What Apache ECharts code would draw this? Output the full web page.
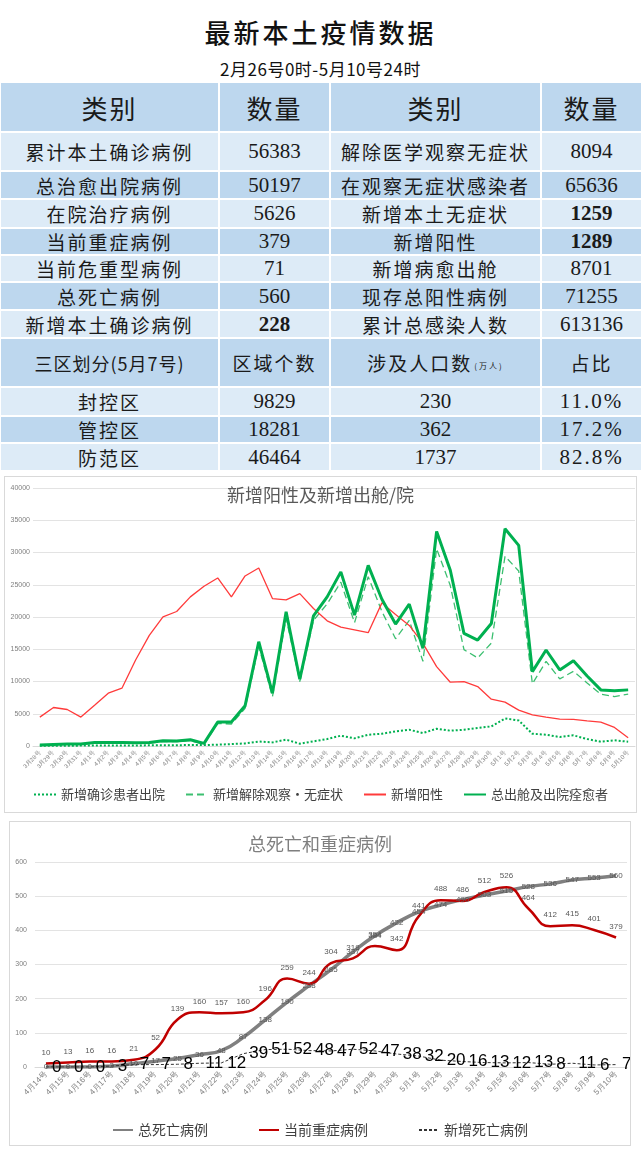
<!DOCTYPE html>
<html><head><meta charset="utf-8">
<script src="https://cdn.jsdelivr.net/npm/echarts@6/dist/echarts.min.js"></script>
<style>
body{margin:0;width:641px;height:1156px;background:#fff;position:relative;overflow:hidden;font-family:"Noto Sans CJK SC",sans-serif;}
.c{position:absolute;box-sizing:border-box;display:flex;align-items:center;justify-content:center;color:#1a1a1a;white-space:nowrap;}
.num{font-family:"Liberation Serif",serif;font-size:21px;}
.lab{font-size:19px;letter-spacing:2px;}
.box{position:absolute;border:1px solid #d9d9d9;background:#fff;}
</style></head><body>
<div class="c" style="left:0;top:12px;width:641px;height:38px;font-size:26px;letter-spacing:3px;font-weight:500;color:#111">最新本土疫情数据</div>
<div class="c" style="left:0;top:56px;width:641px;height:24px;font-size:17px;letter-spacing:0.5px;color:#111">2月26号0时-5月10号24时</div>
<div id="table"></div>
<div class="box" style="left:4px;top:476px;width:631px;height:335px"><div id="c1" style="width:631px;height:335px"></div></div>
<div class="box" style="left:9px;top:821px;width:620px;height:323px"><div id="c2" style="width:620px;height:323px"></div></div>
<script>
// ---------- table data ----------
const headers = ['类别', '数量', '类别', '数量'];
const leftLabels = ['累计本土确诊病例','总治愈出院病例','在院治疗病例','当前重症病例','当前危重型病例','总死亡病例','新增本土确诊病例'];
const leftValues = ['56383','50197','5626','379','71','560','228'];
const rightLabels = ['解除医学观察无症状','在观察无症状感染者','新增本土无症状','新增阳性','新增病愈出舱','现存总阳性病例','累计总感染人数'];
const rightValues = ['8094','65636','1259','1289','8701','71255','613136'];
const boldValues = ['228','1259','1289'];
const zoneHeaders = ['三区划分(5月7号)', '区域个数', '涉及人口数', '占比'];
const zoneNames = ['封控区','管控区','防范区'];
const zoneCounts = ['9829','18281','46464'];
const zonePopulation = ['230','362','1737'];
const zoneShare = ['11.0%','17.2%','82.8%'];

// ---------- chart 1 data ----------
const dates1 = ['3月28号','3月29号','3月30号','3月31号','4月1号','4月2号','4月3号','4月4号','4月5号','4月6号','4月7号','4月8号','4月9号','4月10号','4月11号','4月12号','4月13号','4月14号','4月15号','4月16号','4月17号','4月18号','4月19号','4月20号','4月21号','4月22号','4月23号','4月24号','4月25号','4月26号','4月27号','4月28号','4月29号','4月30号','5月1号','5月2号','5月3号','5月4号','5月5号','5月6号','5月7号','5月8号','5月9号','5月10号'];
const dischargedConfirmed = [30,40,50,60,60,70,80,90,100,110,120,150, 150,200,300,400,700,560,980,360,720,1080, 1600,1180,1750,1900,2270,2520,2010,2680,2370,2520,2780, 3040,4270,3960,1900,1750,1390,1650,1080,670,880,670];
const releasedAsymptomatic = [120,210,250,240,490,490,480,430,440,690,670,830, 250,3510,3410,5830,15470,7630,19820,9990,19460,22040, 25400,19110,26260,20860,16630,19470,13130,30580,24870,14940,13650, 15960,29400,27140,9630,13130,10400,11580,9780,8030,7670,8030];
const newPositive = [4480,5970,5660,4480,6330,8190,8960,13340,17150,20030,20850,23120, 24770,26050,23120,26360,27600,22860,22660,23630,21320,19410, 18430,18020,17560,22190,20390,18690,15910,12310,9890,9990,9220, 7260,6800,5560,4840,4480,4170,4120,3910,3710,2880,1290];
const totalRecovered = [150,250,300,300,550,560,560,520,540,800,790,980, 400,3710,3710,6230,16170,8190,20800,10350,20180,23120, 27000,20290,28010,22760,18900,21990,15140,33260,27240,17460,16430, 19000,33670,31100,11530,14880,11790,13230,10860,8700,8550,8701];

// ---------- chart 2 data ----------
const dates2 = ['4月14号','4月15号','4月16号','4月17号','4月18号','4月19号','4月20号','4月21号','4月22号','4月23号','4月24号','4月25号','4月26号','4月27号','4月28号','4月29号','4月30号','5月1号','5月2号','5月3号','5月4号','5月5号','5月6号','5月7号','5月8号','5月9号','5月10号'];
const totalDeaths = [0,0,0,3,10,17,25,36,48,87,138,190,238,285,337,384,422,454,474,490,503,515,528,536,547,553,560];
const severeCases = [10,13,16,16,21,52,139,160,157,160,196,259,244,304,318,354,342,441,488,486,512,526,464,412,415,401,379];
const newDeaths = [0,0,0,3,7,7,8,11,12,39,51,52,48,47,52,47,38,32,20,16,13,12,13,8,11,6,7];

// ---------- build table ----------
const BLUE = '#BDD7EE', LIGHT = '#DDEBF7';
const colX = [1, 220, 331, 542];
const colW = [217, 109, 209, 99];
let html = '';
function cell(ci, top, h, bg, content, cls, extra) {
  html += `<div class="c ${cls||''}" style="left:${colX[ci]}px;top:${top}px;width:${colW[ci]}px;height:${h}px;background:${bg};${extra||''}">${content}</div>`;
}
headers.forEach((t, i) => cell(i, 83, 48, BLUE, t, '', 'font-size:26px;letter-spacing:2px;'));
const rowTops = [133,172,200,229,256,283,311];
const rowHs = [37,26,27,25,25,26,26];
leftLabels.forEach((t, r) => {
  const bg = r % 2 === 0 ? LIGHT : BLUE;
  const top = rowTops[r], h = rowHs[r];
  cell(0, top, h, bg, t, 'lab');
  cell(1, top, h, bg, leftValues[r], 'num', boldValues.includes(leftValues[r]) ? 'font-weight:bold;' : '');
  cell(2, top, h, bg, rightLabels[r], 'lab');
  cell(3, top, h, bg, rightValues[r], 'num', boldValues.includes(rightValues[r]) ? 'font-weight:bold;' : '');
});
cell(0, 339, 47, BLUE, zoneHeaders[0], '', 'font-size:18px;letter-spacing:1px;');
cell(1, 339, 47, BLUE, zoneHeaders[1], '', 'font-size:19px;letter-spacing:2px;');
cell(2, 339, 47, BLUE, zoneHeaders[2] + '<span style="font-size:8px;margin-left:2px;margin-top:6px">(万人)</span>', '', 'font-size:19px;letter-spacing:2px;');
cell(3, 339, 47, BLUE, zoneHeaders[3], '', 'font-size:19px;letter-spacing:2px;');
const zTops = [388,417,444], zHs = [27,25,26];
zoneNames.forEach((t, r) => {
  const bg = r % 2 === 0 ? LIGHT : BLUE;
  cell(0, zTops[r], zHs[r], bg, t, 'lab');
  cell(1, zTops[r], zHs[r], bg, zoneCounts[r], 'num');
  cell(2, zTops[r], zHs[r], bg, zonePopulation[r], 'num');
  cell(3, zTops[r], zHs[r], bg, zoneShare[r], 'num', 'letter-spacing:2px;');
});
document.getElementById('table').innerHTML = html;

const hidden = { color: 'rgba(0,0,0,0)', borderWidth: 0 };

// ---------- chart 1 ----------
const c1 = echarts.init(document.getElementById('c1'));
c1.setOption({
  animation: false,
  title: { text: '新增阳性及新增出舱/院', left: 'center', top: 4,
    textStyle: { fontSize: 18, fontWeight: 'normal', color: '#595959', fontFamily: 'Noto Sans CJK SC' } },
  grid: { left: 28, right: 1, top: 11, bottom: 66 },
  legend: { bottom: 6, itemGap: 20, itemWidth: 22, itemHeight: 10,
    textStyle: { fontSize: 13, color: '#404040', fontFamily: 'Noto Sans CJK SC' } },
  xAxis: { type: 'category', data: dates1, boundaryGap: true,
    axisLine: { lineStyle: { color: '#d9d9d9' } }, axisTick: { show: false },
    axisLabel: { interval: 0, rotate: 45, fontSize: 6, color: '#808080', margin: 6 } },
  yAxis: { type: 'value', min: 0, max: 40000, interval: 5000,
    axisLabel: { fontSize: 7, color: '#808080', margin: 3, formatter: v => String(v) },
    splitLine: { lineStyle: { color: '#e3e3e3' } } },
  series: [
    { name: '新增确诊患者出院', type: 'line', data: dischargedConfirmed, symbol: 'circle', symbolSize: 2,
      lineStyle: { color: '#00B050', width: 2, type: [2, 2] }, itemStyle: Object.assign({}, hidden) },
    { name: '新增解除观察·无症状', type: 'line', data: releasedAsymptomatic, symbol: 'circle', symbolSize: 2,
      lineStyle: { color: '#3CBF70', width: 1.3, type: [7, 4] }, itemStyle: Object.assign({}, hidden) },
    { name: '新增阳性', type: 'line', data: newPositive, symbol: 'circle', symbolSize: 2,
      lineStyle: { color: '#FF3B3B', width: 1.3 }, itemStyle: Object.assign({}, hidden) },
    { name: '总出舱及出院痊愈者', type: 'line', data: totalRecovered, symbol: 'circle', symbolSize: 2,
      lineStyle: { color: '#00B050', width: 3 }, itemStyle: Object.assign({}, hidden) }
  ]
});

// ---------- chart 2 ----------
const c2 = echarts.init(document.getElementById('c2'));
c2.setOption({
  animation: false,
  title: { text: '总死亡和重症病例', left: 'center', top: 8,
    textStyle: { fontSize: 18, fontWeight: 'normal', color: '#7f7f7f', fontFamily: 'Noto Sans CJK SC' } },
  grid: { left: 25, right: 3, top: 40, bottom: 78 },
  legend: { top: 296, itemGap: 50, itemWidth: 20, itemHeight: 10,
    textStyle: { fontSize: 14, color: '#404040', fontFamily: 'Noto Sans CJK SC' } },
  xAxis: { type: 'category', data: dates2, boundaryGap: true,
    axisLine: { lineStyle: { color: '#d9d9d9' } }, axisTick: { show: false },
    axisLabel: { interval: 0, rotate: 45, fontSize: 8, color: '#808080', margin: 6 } },
  yAxis: { type: 'value', min: 0, max: 600, interval: 100,
    axisLabel: { fontSize: 7, color: '#808080', margin: 8 },
    splitLine: { lineStyle: { color: '#e3e3e3' } } },
  series: [
    { name: '总死亡病例', type: 'line', data: totalDeaths, smooth: true, symbol: 'circle', symbolSize: 2,
      lineStyle: { color: '#808080', width: 3.5 }, itemStyle: Object.assign({}, hidden),
      label: { show: true, position: 'inside', fontSize: 8, color: '#595959' } },
    { name: '当前重症病例', type: 'line', data: severeCases, smooth: true, symbol: 'circle', symbolSize: 2,
      lineStyle: { color: '#C00000', width: 2.5 }, itemStyle: Object.assign({}, hidden),
      label: { show: true, position: 'top', distance: 6, fontSize: 8, color: '#595959' } },
    { name: '新增死亡病例', type: 'line', data: newDeaths, symbol: 'circle', symbolSize: 2,
      lineStyle: { color: '#333333', width: 1, type: [3, 2] }, itemStyle: Object.assign({}, hidden),
      label: { show: true, position: 'right', distance: 5, fontSize: 17, color: '#000000' } }
  ]
});
</script>
</body></html>
